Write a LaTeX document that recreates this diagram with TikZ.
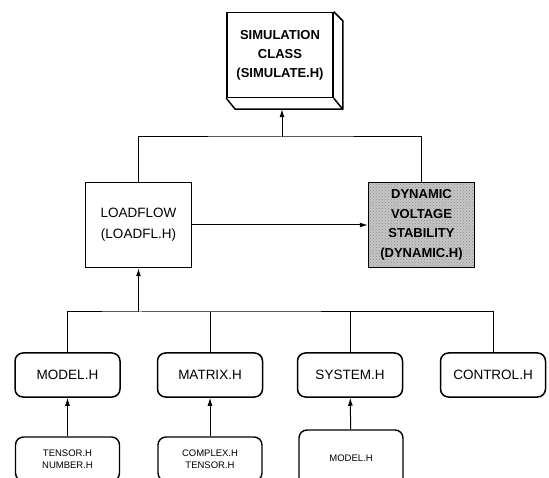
\documentclass[tikz,border=0pt]{standalone}
\usepackage{fontspec}
\setmainfont{Liberation Sans}
\usetikzlibrary{calc, patterns, arrows.meta}

\begin{document}
\begin{tikzpicture}[x=1pt, y=1pt, >={Latex[length=8pt,width=5pt]},
    box/.style={draw, line width=1.5pt, minimum width=106pt, minimum height=85pt, align=center, font=\fontsize{13.5}{21}\selectfont},
    hdr/.style={draw, line width=1.5pt, rounded corners=8pt, minimum width=105pt, minimum height=44pt, font=\fontsize{13.5}{16}\selectfont},
    sub/.style={draw, line width=1.4pt, rounded corners=8pt, minimum width=104pt, minimum height=44pt, align=center, font=\fontsize{9.5}{11.5}\selectfont},
    link/.style={line width=1pt}]
    \useasboundingbox (0,0) rectangle (549,477);
    \clip (0,0) rectangle (549,477);

    \node[box, font={\bfseries\fontsize{13}{19}\selectfont}] (sim) at (280,422) {SIMULATION\\CLASS\\(SIMULATE.H)};
    \draw[line width=1.5pt, line join=round] (sim.north east) -- ++(9,-9) -- ($(sim.south east)+(9,-11)$) -- ($(sim.south west)+(9,-11)$) -- (sim.south west);
    \draw[line width=1.5pt] (sim.south east) -- ++(9,-11);
    \coordinate (simbase) at ($(sim.south)+(2,-11)$);

    \node[box] (load) at (138.5,252) {LOADFLOW\\(LOADFL.H)};
    \node[box, preaction={fill=gray!45}, pattern=crosshatch dots, pattern color=gray!90, font={\bfseries\fontsize{13}{19.5}\selectfont}] (dyn) at (421.5,252) {DYNAMIC\\VOLTAGE\\STABILITY\\(DYNAMIC.H)};

    \coordinate (jtop) at (282,340);
    \draw[link] (load.north) |- (jtop) -| (dyn.north);
    \draw[link,->] (jtop) -- (simbase);
    \draw[link,->] (load) -- (dyn);

    \node[hdr] (model) at (67.5,102) {MODEL.H};
    \node[hdr] (matrix) at (210,102) {MATRIX.H};
    \node[hdr] (system) at (350,102) {SYSTEM.H};
    \node[hdr] (control) at (493,102) {CONTROL.H};

    \coordinate (bus) at (138.5,165);
    \draw[link] (model.north) |- (bus) -| (control.north);
    \draw[link] (matrix.north) -- (matrix.north |- bus);
    \draw[link] (system.north) -- (system.north |- bus);
    \draw[link,->] (bus) -- (load.south);

    \node[sub] (tensor) at (67.5,18) {TENSOR.H\\NUMBER.H};
    \node[sub] (complex) at (210,18) {COMPLEX.H\\TENSOR.H};
    \node[sub, minimum height=56pt] (submodel) at (351,19) {MODEL.H};
    %\node[sub] (subcontrol) at (493,18) {};

    \draw[link,->] (tensor) -- (model);
    \draw[link,->] (complex) -- (matrix);
    \draw[link,->] (submodel) -- (system);
\end{tikzpicture}
\end{document}
